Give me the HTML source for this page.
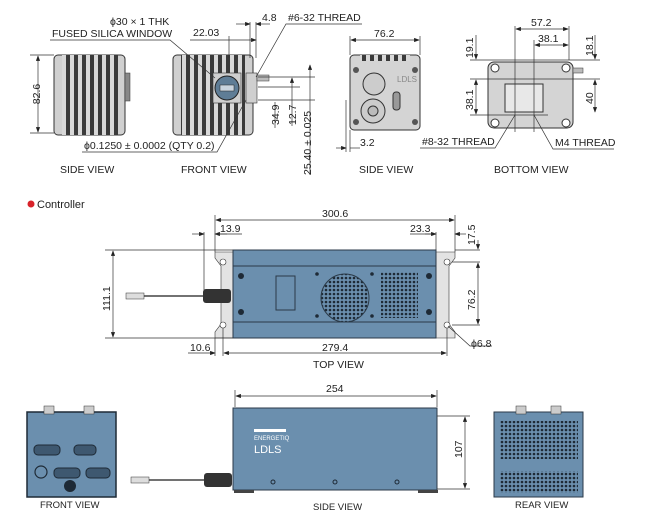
<!DOCTYPE html>
<html><head><meta charset="utf-8"><style>
html,body{margin:0;padding:0;background:#fff;}
svg{display:block;font-family:"Liberation Sans",sans-serif;}
text{fill:#222;font-size:10.5px;}
.l{stroke:#333;stroke-width:0.7;fill:none;}
.b{fill:#6b8fae;stroke:#2b3a48;stroke-width:1;}
</style></head><body>
<svg width="650" height="515" viewBox="0 0 650 515">
<defs>
<marker id="a" markerWidth="8" markerHeight="6" refX="7" refY="3" orient="auto-start-reverse"><path d="M0,0 L8,3 L0,6z" fill="#222"/></marker>
<pattern id="dots" width="4" height="4" patternUnits="userSpaceOnUse"><rect width="4" height="4" fill="#6b8fae"/><circle cx="2" cy="2" r="1.3" fill="#1e2a36"/></pattern>
<pattern id="fins" width="8" height="10" patternUnits="userSpaceOnUse"><rect width="8" height="10" fill="#d8d8d8"/><rect x="2" width="4" height="10" fill="#3a3a3a"/></pattern>
</defs>

<!-- LAMP SIDE VIEW -->
<rect x="54" y="55" width="71" height="80" rx="4" fill="#d0d0d0" stroke="#333"/>
<rect x="62" y="55" width="56" height="80" fill="url(#fins)"/>
<rect x="125" y="73" width="5" height="28" fill="#888" stroke="#333" stroke-width="0.5"/>
<line class="l" x1="30" y1="55" x2="54" y2="55"/><line class="l" x1="30" y1="133" x2="54" y2="133"/>
<line class="l" x1="38" y1="56" x2="38" y2="132" marker-start="url(#a)" marker-end="url(#a)"/>
<text x="40" y="94" transform="rotate(-90 40 94)" text-anchor="middle" dx="0" dy="0">82.6</text>

<!-- LAMP FRONT VIEW -->
<rect x="173" y="55" width="80" height="80" rx="4" fill="#d0d0d0" stroke="#333"/>
<rect x="181" y="55" width="64" height="80" fill="url(#fins)"/>
<rect x="213" y="73" width="28" height="30" fill="#cfcfcf" stroke="#333" stroke-width="0.6"/>
<circle cx="227" cy="88" r="12" fill="#5f7d96" stroke="#222"/>
<rect x="220" y="85" width="14" height="6" fill="#c9d4de" stroke="#222" stroke-width="0.5"/>
<rect x="246" y="73" width="11" height="30" fill="#cfcfcf" stroke="#333" stroke-width="0.6"/>
<rect x="257" y="75" width="12" height="6" fill="#bbb" stroke="#333" stroke-width="0.5"/>
<!-- labels -->
<text x="110" y="25">ϕ30 × 1 THK</text>
<text x="52" y="37">FUSED SILICA WINDOW</text>
<polyline class="l" points="50,40 170,40 215,78"/>
<text x="193" y="36">22.03</text>
<line class="l" x1="190" y1="40" x2="256" y2="40" marker-end="url(#a)"/>
<line class="l" x1="229" y1="36" x2="229" y2="58"/><line class="l" x1="250" y1="22" x2="250" y2="58"/><line class="l" x1="256" y1="22" x2="256" y2="58"/>
<line class="l" x1="236" y1="24" x2="250" y2="24" marker-end="url(#a)"/><line class="l" x1="270" y1="24" x2="256" y2="24" marker-end="url(#a)"/>
<text x="262" y="21">4.8</text>
<text x="288" y="21">#6-32 THREAD</text>
<polyline class="l" points="362,24 286,24 256,77"/>
<text x="84" y="149">ϕ0.1250 ± 0.0002 (QTY 0.2)</text>
<polyline class="l" points="82,152 217,152 246,100"/>
<line class="l" x1="258" y1="77" x2="315" y2="77"/><line class="l" x1="258" y1="100" x2="315" y2="100"/><line class="l" x1="258" y1="87" x2="300" y2="87"/>
<line class="l" x1="275" y1="102" x2="275" y2="128"/><text x="279" y="125" transform="rotate(-90 279 125)">34.9</text>
<line class="l" x1="292" y1="78" x2="292" y2="126" marker-start="url(#a)"/><text x="296" y="125" transform="rotate(-90 296 125)">12.7</text>
<line class="l" x1="310" y1="65" x2="310" y2="175" marker-start="url(#a)"/><text x="311" y="175" transform="rotate(-90 311 175)">25.40 ± 0.025</text>
<text x="60" y="173">SIDE VIEW</text><text x="181" y="173">FRONT VIEW</text>

<!-- LAMP SIDE VIEW 2 -->
<rect x="350" y="55" width="70" height="75" rx="4" fill="#d4d4d4" stroke="#333"/>
<rect x="360" y="55" width="50" height="6" fill="url(#fins)"/>
<circle cx="374" cy="84" r="11" fill="#ccc" stroke="#333"/>
<circle cx="373" cy="111" r="12" fill="#ccc" stroke="#333"/><circle cx="373" cy="111" r="5" fill="#bbb" stroke="#333"/>
<rect x="393" y="92" width="7" height="18" rx="3" fill="#999" stroke="#333"/>
<circle cx="356" cy="70" r="3" fill="#555"/><circle cx="415" cy="70" r="3" fill="#555"/><circle cx="356" cy="122" r="3" fill="#555"/><circle cx="415" cy="122" r="3" fill="#555"/>
<text x="397" y="82" style="font-size:8px;fill:#888">LDLS</text>
<line class="l" x1="350" y1="36" x2="350" y2="55"/><line class="l" x1="420" y1="36" x2="420" y2="55"/>
<line class="l" x1="351" y1="40" x2="419" y2="40" marker-start="url(#a)" marker-end="url(#a)"/>
<text x="374" y="37">76.2</text>
<line class="l" x1="346" y1="100" x2="346" y2="152"/><line class="l" x1="350" y1="130" x2="350" y2="152"/>
<line class="l" x1="336" y1="148" x2="346" y2="148" marker-end="url(#a)"/><line class="l" x1="360" y1="148" x2="350" y2="148"/>
<text x="360" y="146">3.2</text>
<text x="359" y="173">SIDE VIEW</text>

<!-- BOTTOM VIEW -->
<rect x="488" y="62" width="85" height="66" rx="6" fill="#d4d4d4" stroke="#333"/>
<rect x="505" y="84" width="38" height="28" fill="#e8e8e8" stroke="#333"/>
<circle cx="495" cy="68" r="4" fill="#fff" stroke="#333"/><circle cx="566" cy="68" r="4" fill="#fff" stroke="#333"/><circle cx="495" cy="123" r="4" fill="#fff" stroke="#333"/><circle cx="566" cy="123" r="4" fill="#fff" stroke="#333"/>
<rect x="573" y="68" width="10" height="5" fill="#bbb" stroke="#333" stroke-width="0.5"/>
<line class="l" x1="515" y1="26" x2="515" y2="132"/><line class="l" x1="569" y1="26" x2="569" y2="60"/><line class="l" x1="534" y1="40" x2="534" y2="132"/>
<line class="l" x1="516" y1="29" x2="568" y2="29" marker-start="url(#a)" marker-end="url(#a)"/><text x="531" y="26">57.2</text>
<line class="l" x1="535" y1="45" x2="568" y2="45" marker-start="url(#a)" marker-end="url(#a)"/><text x="538" y="42">38.1</text>
<line class="l" x1="470" y1="60" x2="600" y2="60"/><line class="l" x1="470" y1="79" x2="600" y2="79"/><line class="l" x1="470" y1="115" x2="548" y2="115"/>
<line class="l" x1="476" y1="35" x2="476" y2="59" marker-end="url(#a)"/><text x="473" y="58" transform="rotate(-90 473 58)">19.1</text>
<line class="l" x1="476" y1="80" x2="476" y2="114" marker-start="url(#a)" marker-end="url(#a)"/><text x="473" y="110" transform="rotate(-90 473 110)">38.1</text>
<line class="l" x1="595" y1="35" x2="595" y2="59" marker-end="url(#a)"/><text x="593" y="56" transform="rotate(-90 593 56)">18.1</text>
<line class="l" x1="595" y1="80" x2="595" y2="112" marker-start="url(#a)" marker-end="url(#a)"/><text x="593" y="104" transform="rotate(-90 593 104)">40</text>
<text x="422" y="145">#8-32 THREAD</text><polyline class="l" points="420,148 495,148 515,115"/>
<text x="555" y="146">M4 THREAD</text><polyline class="l" points="614,149 553,149 534,115"/>
<text x="494" y="173">BOTTOM VIEW</text>

<!-- Controller -->
<circle cx="31" cy="204" r="3.5" fill="#d8232a"/>
<text x="37" y="208" style="font-size:11px">Controller</text>

<!-- TOP VIEW -->
<path d="M215,252 h18 v86 h-18 v-6 l6,-8 v-58 l-6,-8z" fill="#e3e3e3" stroke="#333" stroke-width="0.6"/>
<path d="M455,252 h-19 v86 h19 v-6 l-6,-8 v-58 l6,-8z" fill="#e3e3e3" stroke="#333" stroke-width="0.6"/>
<rect x="233" y="250" width="203" height="88" class="b"/>
<line x1="233" y1="266" x2="436" y2="266" stroke="#2b3a48"/><line x1="233" y1="322" x2="436" y2="322" stroke="#2b3a48"/>
<rect x="276" y="276" width="19" height="34" fill="#6b8fae" stroke="#2b3a48"/>
<circle cx="345" cy="298" r="24" fill="url(#dots)" stroke="#2b3a48"/>
<rect x="381" y="272" width="37" height="46" fill="url(#dots)"/>
<g fill="#1e2a36"><circle cx="241" cy="276" r="3"/><circle cx="241" cy="312" r="3"/><circle cx="429" cy="276" r="3"/><circle cx="429" cy="312" r="3"/><circle cx="317" cy="274" r="1.8"/><circle cx="317" cy="316" r="1.8"/><circle cx="372" cy="274" r="1.8"/><circle cx="372" cy="316" r="1.8"/></g>
<g fill="#fff" stroke="#333" stroke-width="0.6"><circle cx="223" cy="262" r="3"/><circle cx="223" cy="325" r="3"/><circle cx="447" cy="262" r="3"/><circle cx="447" cy="325" r="3"/></g>
<line x1="130" y1="296" x2="204" y2="296" stroke="#444" stroke-width="1.6"/>
<rect x="126" y="293" width="18" height="6" fill="#ddd" stroke="#333" stroke-width="0.5"/>
<rect x="203" y="289" width="28" height="14" rx="3" fill="#333"/>
<line class="l" x1="215" y1="215" x2="215" y2="252"/><line class="l" x1="455" y1="215" x2="455" y2="252"/>
<line class="l" x1="216" y1="220" x2="454" y2="220" marker-start="url(#a)" marker-end="url(#a)"/><text x="322" y="217">300.6</text>
<line class="l" x1="204" y1="232" x2="204" y2="290"/>
<line class="l" x1="192" y1="234" x2="204" y2="234" marker-end="url(#a)"/><line class="l" x1="227" y1="234" x2="215" y2="234" marker-end="url(#a)"/><line class="l" x1="215" y1="234" x2="242" y2="234"/><text x="220" y="232">13.9</text>
<line class="l" x1="436" y1="232" x2="436" y2="250"/>
<line class="l" x1="410" y1="234" x2="436" y2="234"/><line class="l" x1="425" y1="234" x2="436" y2="234" marker-end="url(#a)"/><line class="l" x1="466" y1="234" x2="455" y2="234" marker-end="url(#a)"/><text x="410" y="232">23.3</text>
<line class="l" x1="105" y1="250" x2="233" y2="250"/><line class="l" x1="105" y1="338" x2="233" y2="338"/>
<line class="l" x1="113" y1="251" x2="113" y2="337" marker-start="url(#a)" marker-end="url(#a)"/><text x="110" y="311" transform="rotate(-90 110 311)">111.1</text>
<line class="l" x1="455" y1="250" x2="480" y2="250"/><line class="l" x1="452" y1="262" x2="480" y2="262"/><line class="l" x1="452" y1="325" x2="480" y2="325"/>
<line class="l" x1="478" y1="240" x2="478" y2="249" marker-end="url(#a)"/><text x="475" y="245" transform="rotate(-90 475 245)" dx="0">17.5</text>
<line class="l" x1="478" y1="263" x2="478" y2="324" marker-start="url(#a)" marker-end="url(#a)"/><text x="475" y="310" transform="rotate(-90 475 310)">76.2</text>
<line class="l" x1="215" y1="338" x2="215" y2="356"/><line class="l" x1="223" y1="328" x2="223" y2="356"/><line class="l" x1="447" y1="328" x2="447" y2="356"/>
<line class="l" x1="188" y1="353" x2="215" y2="353" marker-end="url(#a)"/><text x="190" y="351">10.6</text>
<line class="l" x1="224" y1="353" x2="446" y2="353" marker-start="url(#a)" marker-end="url(#a)"/><text x="322" y="351">279.4</text>
<polyline class="l" points="448,326 470,346 492,346"/><text x="471" y="347">ϕ6.8</text>
<text x="313" y="368">TOP VIEW</text>

<!-- BOTTOM ROW: FRONT -->
<rect x="27" y="412" width="89" height="85" fill="#6b8fae" stroke="#1e2a36" stroke-width="1.5"/>
<rect x="44" y="406" width="10" height="8" fill="#ccc" stroke="#333" stroke-width="0.5"/><rect x="84" y="406" width="10" height="8" fill="#ccc" stroke="#333" stroke-width="0.5"/>
<g fill="#3e5870" stroke="#1e2a36"><rect x="34" y="445" width="26" height="10" rx="4"/><rect x="74" y="445" width="22" height="10" rx="4"/><rect x="54" y="468" width="26" height="10" rx="4"/><rect x="86" y="468" width="24" height="10" rx="4"/></g>
<circle cx="41" cy="472" r="6" fill="none" stroke="#1e2a36" stroke-width="1.2"/>
<circle cx="70" cy="486" r="6" fill="#1e2a36"/>
<text x="40" y="508" style="font-size:9.5px">FRONT VIEW</text>

<!-- SIDE -->
<line class="l" x1="235" y1="390" x2="235" y2="407"/><line class="l" x1="437" y1="390" x2="437" y2="407"/>
<line class="l" x1="236" y1="396" x2="436" y2="396" marker-start="url(#a)" marker-end="url(#a)"/><text x="326" y="392">254</text>
<rect x="233" y="408" width="204" height="82" fill="#6b8fae" stroke="#2b3a48"/>
<rect x="234" y="490" width="20" height="3" fill="#444"/><rect x="418" y="490" width="20" height="3" fill="#444"/>
<rect x="254" y="429" width="32" height="3" fill="#fff"/>
<text x="254" y="440" style="font-size:6px;fill:#fff">ENERGETIQ</text>
<text x="254" y="453" style="font-size:11px;fill:#fff">LDLS</text>
<g fill="none" stroke="#1e2a36"><circle cx="273" cy="482" r="2"/><circle cx="335" cy="482" r="2"/><circle cx="397" cy="482" r="2"/></g>
<line x1="138" y1="480" x2="205" y2="480" stroke="#444" stroke-width="1.6"/>
<rect x="131" y="477" width="18" height="6" fill="#ddd" stroke="#333" stroke-width="0.5"/>
<rect x="204" y="473" width="28" height="14" rx="3" fill="#333"/>
<line class="l" x1="437" y1="416" x2="470" y2="416"/><line class="l" x1="437" y1="489" x2="470" y2="489"/>
<line class="l" x1="465" y1="417" x2="465" y2="488" marker-start="url(#a)" marker-end="url(#a)"/><text x="462" y="458" transform="rotate(-90 462 458)">107</text>
<text x="313" y="510" style="font-size:9.5px">SIDE VIEW</text>

<!-- REAR -->
<rect x="494" y="412" width="89" height="85" fill="#6b8fae" stroke="#2b3a48"/>
<rect x="516" y="406" width="10" height="8" fill="#ccc" stroke="#333" stroke-width="0.5"/><rect x="551" y="406" width="10" height="8" fill="#ccc" stroke="#333" stroke-width="0.5"/>
<rect x="500" y="421" width="78" height="38" fill="url(#dots)"/>
<rect x="500" y="471" width="78" height="22" fill="url(#dots)"/>
<text x="515" y="508" style="font-size:9.5px">REAR VIEW</text>
</svg>
</body></html>
